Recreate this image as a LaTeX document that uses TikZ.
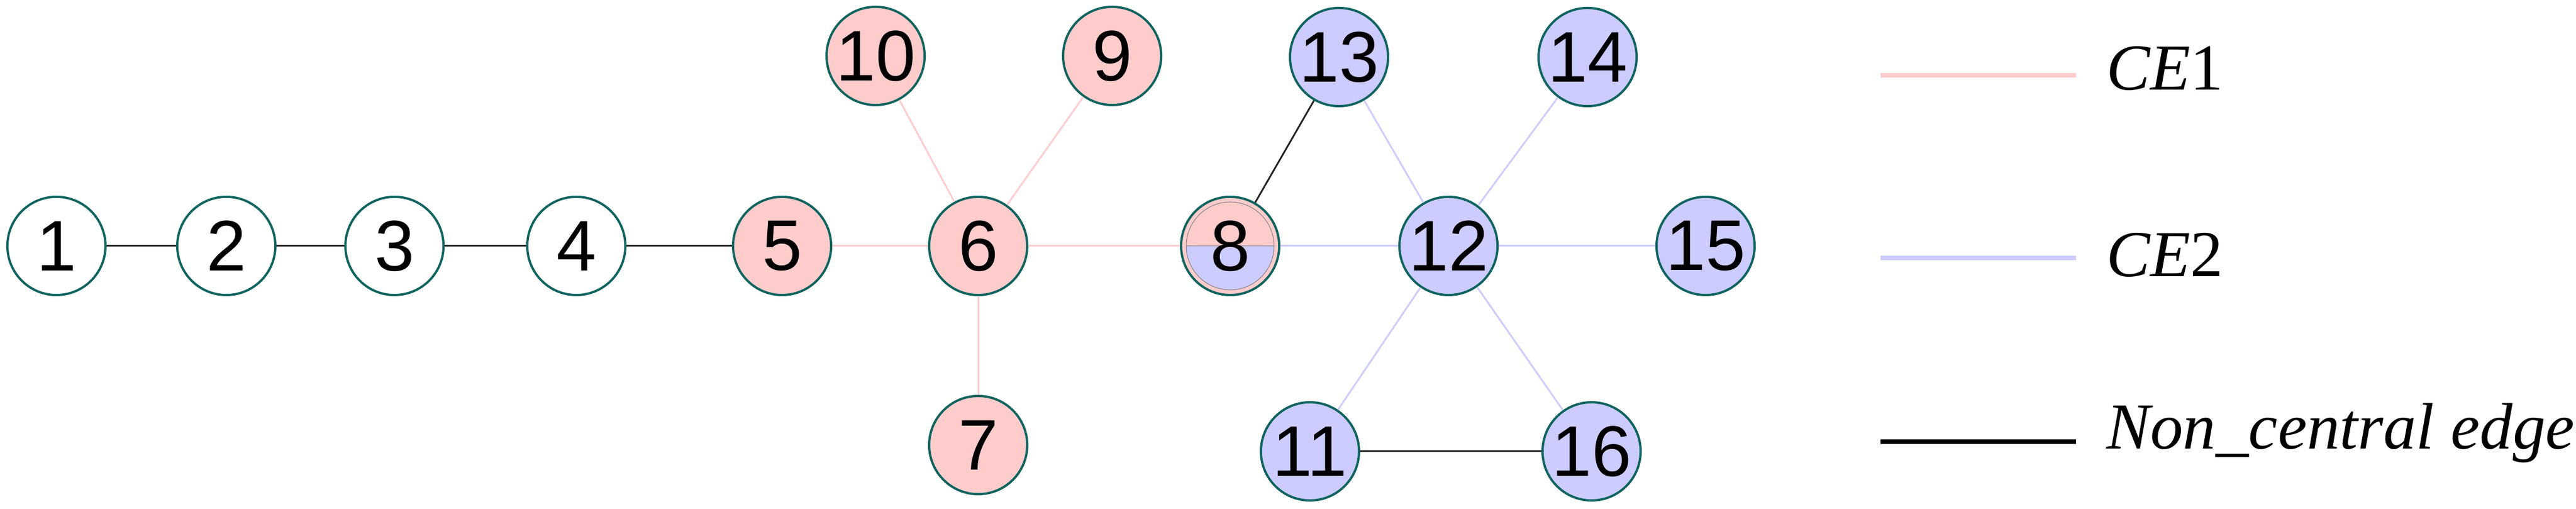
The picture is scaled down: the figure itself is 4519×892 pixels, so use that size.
\documentclass[tikz,border=0pt]{standalone}
\usepackage{fontspec}
\setmainfont{Liberation Serif}
\newfontfamily\numfont{Liberation Sans}
\definecolor{ceone}{RGB}{255,204,204}
\definecolor{cetwo}{RGB}{204,204,255}
\definecolor{rim}{RGB}{15,100,95}
\tikzstyle{vertex}=[circle,draw=rim,line width=0.04cm,minimum size=1.72cm,inner sep=0pt,font=\numfont\fontsize{35.7pt}{36pt}\selectfont]
\tikzstyle{plainv}=[vertex,fill=white]
\tikzstyle{onev}=[vertex,fill=ceone]
\tikzstyle{twov}=[vertex,fill=cetwo]
\tikzstyle{splitv}=[onev,path picture={
  \fill[cetwo] (path picture bounding box.center) ++(-77,0) arc (180:360:77) -- cycle;
  \draw[gray,line width=0.01cm] (path picture bounding box.center) circle (77) ++(-77,0) -- ++(154,0);}]
\tikzstyle{ncedge}=[draw=black!85,line width=0.03cm]
\tikzstyle{oneedge}=[draw=ceone,line width=0.03cm]
\tikzstyle{twoedge}=[draw=cetwo,line width=0.03cm]
\tikzstyle{legendline}=[line width=0.08cm]
\tikzstyle{legendtext}=[anchor=base west,inner sep=0pt,font=\itshape\fontsize{32.7pt}{33pt}\selectfont]

\begin{document}
\begin{tikzpicture}[x=0.01cm,y=0.01cm]
  \useasboundingbox (0,0) rectangle (4519,892);
  \node[plainv] (n1) at (99,461) {1};
  \node[plainv] (n2) at (397,461) {2};
  \node[plainv] (n3) at (692,461) {3};
  \node[plainv] (n4) at (1011,461) {4};
  \node[onev] (n5) at (1372,461) {5};
  \node[onev] (n6) at (1716,461) {6};
  \node[onev] (n7) at (1716,112) {7};
  \node[splitv] (n8) at (2158,461) {8};
  \node[onev] (n9) at (1951,794) {9};
  \node[onev] (n10) at (1536,794) {10};
  \node[twov] (n11) at (2298,101) {11};
  \node[twov] (n12) at (2541,461) {12};
  \node[twov] (n13) at (2349,792) {13};
  \node[twov] (n14) at (2785,792) {14};
  \node[twov] (n15) at (2992,461) {15};
  \node[twov] (n16) at (2792,101) {16};

  \draw[ncedge] (n1) -- (n2);
  \draw[ncedge] (n2) -- (n3);
  \draw[ncedge] (n3) -- (n4);
  \draw[ncedge] (n4) -- (n5);
  \draw[ncedge] (n8) -- (n13);
  \draw[ncedge] (n11) -- (n16);
  \draw[oneedge] (n5) -- (n6);
  \draw[oneedge] (n6) -- (n7);
  \draw[oneedge] (n6) -- (n8);
  \draw[oneedge] (n6) -- (n9);
  \draw[oneedge] (n6) -- (n10);
  \draw[twoedge] (n8) -- (n12);
  \draw[twoedge] (n12) -- (n11);
  \draw[twoedge] (n12) -- (n13);
  \draw[twoedge] (n12) -- (n14);
  \draw[twoedge] (n12) -- (n15);
  \draw[twoedge] (n12) -- (n16);

  \coordinate (ka) at (3299,760);
  \coordinate (kb) at (3642,760);
  \coordinate (kc) at (3299,440);
  \coordinate (kd) at (3642,440);
  \coordinate (ke) at (3299,118);
  \coordinate (kf) at (3642,118);
  \draw[legendline,ceone] (ka) -- (kb);
  \draw[legendline,cetwo] (kc) -- (kd);
  \draw[legendline,black] (ke) -- (kf);
  \node[legendtext] (ceonelabel) at (3695,734) {CE\textup{1}};
  \node[legendtext] (cetwolabel) at (3695,407) {CE\textup{2}};
  \node[legendtext] (nclabel) at (3695,105) {Non\_central edge};
\end{tikzpicture}
\end{document}
